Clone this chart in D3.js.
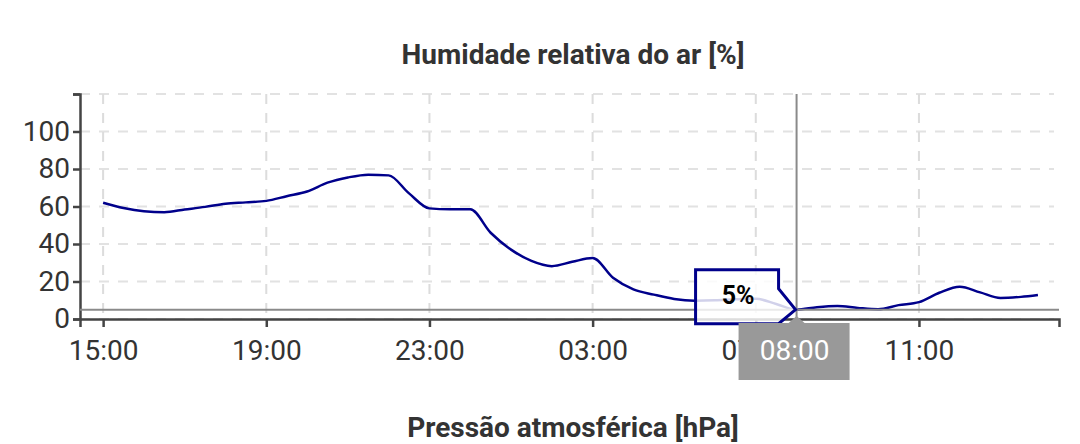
<!DOCTYPE html>
<html>
<head>
<meta charset="utf-8">
<script src="https://cdn.jsdelivr.net/npm/d3@7"></script>
<style>
  body { margin: 0; background: #fff; font-family: Roboto, sans-serif; }
  .tick text { font-family: Roboto, sans-serif; }
</style>
</head>
<body>
<div id="chart"></div>
<script>
const WIDTH = 1080;
const HEIGHT = 444;
const MARGINS = { TOP: 94, LEFT: 80, BOTTOM: 125, RIGHT: 21 };
const LINE_COLOR = "#00008b";

// readings, every 30 min from 15:00
const times = [
  "15:00", "15:30", "16:00", "16:30", "17:00", "17:30", "18:00", "18:30",
  "19:00", "19:30", "20:00", "20:30", "21:00", "21:30", "22:00", "22:30",
  "23:00", "23:30", "00:00", "00:30", "01:00", "01:30", "02:00", "02:30",
  "03:00", "03:30", "04:00", "04:30", "05:00", "05:30", "06:00", "06:30",
  "07:00", "07:30", "08:00", "08:30", "09:00", "09:30", "10:00", "10:30",
  "11:00", "11:30", "12:00", "12:30", "13:00", "13:30", "13:55"
];
const humidity = [
  62, 59.2, 57.5, 57, 58.4, 59.8, 61.5, 62.2,
  63, 65.5, 68, 72.7, 75.5, 77, 76.6, 67,
  59, 58.5, 58.5, 46, 37, 31, 28.2, 30.5,
  32.5, 22, 15.8, 13, 10.7, 9.8, 10, 10.5,
  10.8, 8, 5, 6.3, 6.9, 5.9, 5.2, 7.4,
  9, 14, 17.2, 14.2, 11.2, 11.8, 12.8
];
const xTickLabels = ["15:00", "19:00", "23:00", "03:00", "07:00", "11:00"];
const yTicks = [0, 20, 40, 60, 80, 100, 120];
const selected = { time: "08:00", value: 5 };

// turn "HH:MM" into a date, hours before 14:00 belong to the next day
const toDate = (hm) => {
  let [h, m] = hm.split(':').map(Number);
  return new Date(2024, 0, h < 14 ? 2 : 1, h, m);
};

const data = times.map((t, i) => ({ date: toDate(t), value: humidity[i] }));

const innerW = WIDTH - MARGINS.LEFT - MARGINS.RIGHT;
const innerH = HEIGHT - MARGINS.TOP - MARGINS.BOTTOM;

let svg = d3.select("#chart")
  .append("svg")
  .attr("width", WIDTH)
  .attr("height", HEIGHT);

let g = svg.append("g")
  .attr("transform", `translate(${MARGINS.LEFT},${MARGINS.TOP})`);

let x = d3.scaleTime()
  .domain([new Date(2024, 0, 1, 14, 26), new Date(2024, 0, 2, 14, 26)])
  .range([0, innerW]);

let y = d3.scaleLinear().domain([0, 120]).range([innerH, 0]);

const xTickDates = xTickLabels.map(toDate);

// grid
g.append("g")
  .selectAll("line")
  .data(yTicks)
  .enter()
  .append("line")
  .attr("x1", 0)
  .attr("x2", innerW - 5)
  .attr("y1", d => y(d))
  .attr("y2", d => y(d))
  .attr("stroke", "#e2e2e2")
  .attr("stroke-width", 2)
  .attr("stroke-dasharray", "10,9");

g.append("g")
  .selectAll("line")
  .data(xTickDates)
  .enter()
  .append("line")
  .attr("x1", d => x(d))
  .attr("x2", d => x(d))
  .attr("y1", 0)
  .attr("y2", innerH)
  .attr("stroke", "#dcdcdc")
  .attr("stroke-width", 2)
  .attr("stroke-dasharray", "10,9");

// axes
let xAxis = d3.axisBottom(x)
  .tickValues(xTickDates)
  .tickFormat(d3.timeFormat("%H:%M"))
  .tickSizeOuter(0)
  .tickSize(8)
  .tickPadding(13);

let yAxis = d3.axisLeft(y)
  .tickValues(yTicks)
  .tickFormat(d => d === 120 ? "" : d)
  .tickSizeOuter(0)
  .tickSize(7)
  .tickPadding(3);

let xg = g.append("g")
  .attr("transform", `translate(0,${innerH})`)
  .call(xAxis);

let yg = g.append("g").call(yAxis);

[xg, yg].forEach(a => {
  a.select(".domain").attr("stroke", "#444").attr("stroke-width", 2.5);
  a.selectAll(".tick line").attr("stroke", "#444").attr("stroke-width", 2.5);
  a.selectAll(".tick text")
    .attr("fill", "#333")
    .style("font-size", "28px");
});

// humidity line
let line = d3.line()
  .x(d => x(d.date))
  .y(d => y(d.value))
  .curve(d3.curveMonotoneX);

g.append("path")
  .datum(data)
  .attr("fill", "none")
  .attr("stroke", LINE_COLOR)
  .attr("stroke-width", 2.5)
  .attr("d", line);

// crosshair
const sx = x(toDate(selected.time));
const sy = y(selected.value);

g.append("line")
  .attr("x1", 0).attr("x2", innerW)
  .attr("y1", sy).attr("y2", sy)
  .attr("stroke", "#8a8a8a")
  .attr("stroke-width", 2);

g.append("line")
  .attr("x1", sx).attr("x2", sx)
  .attr("y1", 0).attr("y2", innerH)
  .attr("stroke", "#8a8a8a")
  .attr("stroke-width", 2);

// tooltip with arrow pointing at the selected point
const tipW = 83, tipTop = sy - 40, tipBottom = sy + 14;
let tipPath = d3.path();
tipPath.moveTo(sx - 1, sy);
tipPath.lineTo(sx - 18, sy - 21);
tipPath.lineTo(sx - 18, tipTop);
tipPath.lineTo(sx - 18 - tipW, tipTop);
tipPath.lineTo(sx - 18 - tipW, tipBottom);
tipPath.lineTo(sx - 18, tipBottom);
tipPath.closePath();

g.append("path")
  .attr("d", tipPath.toString())
  .attr("fill", "rgba(255,255,255,0.82)")
  .attr("stroke", LINE_COLOR)
  .attr("stroke-width", 3)
  .attr("stroke-linejoin", "miter");

g.append("text")
  .attr("x", sx - 18 - tipW / 2 + 1)
  .attr("y", sy - 6)
  .attr("text-anchor", "middle")
  .style("font-size", "25px")
  .style("font-weight", "bold")
  .attr("fill", "#000")
  .text(`${selected.value}%`);

// x label badge
g.append("path")
  .attr("d", `M${sx - 8},${innerH + 4} L${sx},${innerH - 3} L${sx + 8},${innerH + 4} Z`)
  .attr("fill", "#999");

g.append("rect")
  .attr("x", sx - 58)
  .attr("y", innerH + 4)
  .attr("width", 111)
  .attr("height", 57)
  .attr("fill", "#999");

g.append("text")
  .attr("x", sx - 2)
  .attr("y", innerH + 41)
  .attr("text-anchor", "middle")
  .style("font-size", "28px")
  .attr("fill", "#fff")
  .text(selected.time);

// titles
svg.append("text")
  .attr("x", 573)
  .attr("y", 64)
  .attr("text-anchor", "middle")
  .style("font-size", "28px")
  .style("font-weight", "bold")
  .attr("fill", "#333")
  .text("Humidade relativa do ar [%]");

svg.append("text")
  .attr("x", 573)
  .attr("y", 437)
  .attr("text-anchor", "middle")
  .style("font-size", "28px")
  .style("font-weight", "bold")
  .attr("fill", "#333")
  .text("Pressão atmosférica [hPa]");
</script>
</body>
</html>
